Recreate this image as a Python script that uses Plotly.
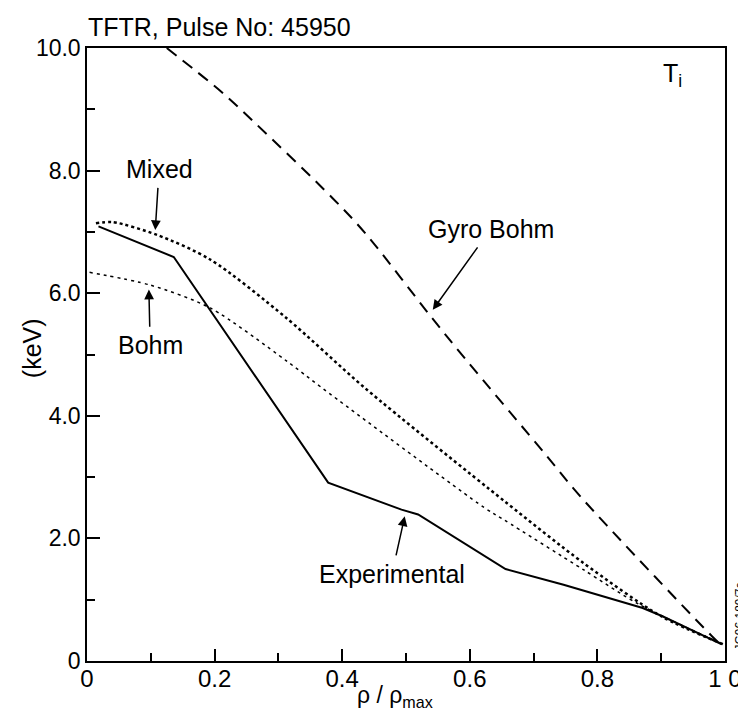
import plotly.graph_objects as go

# ---- data ----
exp_x = [0.018, 0.136, 0.378, 0.493, 0.519, 0.656, 0.747, 0.871, 0.902, 0.995]
exp_y = [7.09, 6.59, 2.91, 2.47, 2.39, 1.50, 1.245, 0.865, 0.73, 0.27]

mixed_x = [0.014, 0.04, 0.11, 0.193, 0.312, 0.436, 0.654, 0.778, 0.9, 0.998]
mixed_y = [7.14, 7.16, 6.95, 6.55, 5.6, 4.45, 2.61, 1.6, 0.73, 0.27]

bohm_x = [0.004, 0.1, 0.193, 0.312, 0.369, 0.623, 0.654, 0.778, 0.866, 0.998]
bohm_y = [6.34, 6.13, 5.76, 4.9, 4.45, 2.5, 2.30, 1.49, 0.92, 0.27]

gyro_x = [0.125, 0.21, 0.26, 0.385, 0.436, 0.542, 0.592, 0.721, 0.762, 0.814, 0.98, 0.995]
gyro_y = [10.0, 9.29, 8.81, 7.55, 6.98, 5.58, 4.94, 3.34, 2.82, 2.22, 0.40, 0.25]

x_tickvals = [0, 0.2, 0.4, 0.6, 0.8, 1.0]
x_ticktext = ["0", "0.2", "0.4", "0.6", "0.8", "1 0"]
y_tickvals = [0, 2, 4, 6, 8, 10]
y_ticktext = ["0", "2.0", "4.0", "6.0", "8.0", "10.0"]

FONT = "Liberation Sans, Arial, Helvetica, sans-serif"

fig = go.Figure()
fig.add_trace(go.Scatter(x=gyro_x, y=gyro_y, mode="lines",
                         line=dict(color="black", width=2, dash="12px,8px",
                                   shape="spline", smoothing=1.0), name="Gyro Bohm"))
fig.add_trace(go.Scatter(x=bohm_x, y=bohm_y, mode="lines",
                         line=dict(color="black", width=1.5, dash="3px,4px",
                                   shape="spline", smoothing=0.8), name="Bohm"))
fig.add_trace(go.Scatter(x=mixed_x, y=mixed_y, mode="lines",
                         line=dict(color="black", width=2.5, dash="dot",
                                   shape="spline", smoothing=0.8), name="Mixed"))
fig.add_trace(go.Scatter(x=exp_x, y=exp_y, mode="lines",
                         line=dict(color="black", width=2), name="Experimental"))

txt = dict(family=FONT, size=25, color="black")

# label text (at its centre) with an arrow pointing to the curve
labels = [
    ("Mixed", 0.113, 8.02, 0.107, 7.03),
    ("Bohm", 0.099, 5.15, 0.097, 6.06),
    ("Gyro Bohm", 0.633, 7.05, 0.542, 5.73),
    ("Experimental", 0.478, 1.42, 0.498, 2.36),
]
for t, lx, ly, tx, ty in labels:
    fig.add_annotation(x=tx, y=ty, ax=lx, ay=ly, xref="x", yref="y", axref="x", ayref="y",
                       text=t, showarrow=True, arrowhead=2, arrowsize=1.3,
                       arrowwidth=1.5, arrowcolor="black", font=txt, borderpad=4)

fig.add_annotation(x=0.918, y=9.56, xref="x", yref="y", text="T<sub>i</sub>", showarrow=False,
                   font=txt, xanchor="center", yanchor="middle")

fig.add_annotation(x=-0.002, y=1.035, xref="paper", yref="paper", text="TFTR, Pulse No: 45950",
                   showarrow=False, xanchor="left", yanchor="middle", font=txt)
fig.add_annotation(x=-0.085, y=0.51, xref="paper", yref="paper", text="(keV)", textangle=-90,
                   showarrow=False, xanchor="center", yanchor="middle", font=txt)
fig.add_annotation(x=0.482, y=-0.083, xref="paper", yref="paper", text="ρ / ρ<sub>max</sub>",
                   showarrow=False, xanchor="center", yanchor="bottom", borderpad=0,
                   font=dict(family=FONT, size=23, color="black"))
fig.add_annotation(x=1.023, y=0.072, xref="paper", yref="paper", text="JG96.189/7c", textangle=-90,
                   showarrow=False, xanchor="center", yanchor="middle",
                   font=dict(family=FONT, size=12, color="black"))

fig.update_xaxes(range=[0, 1.0], tickmode="array", tickvals=x_tickvals, ticktext=x_ticktext,
                 ticks="inside", ticklen=12, tickwidth=1.5, tickcolor="black",
                 ticklabelstandoff=-5,
                 showline=True, linecolor="black", linewidth=1.5, mirror=True,
                 showgrid=False, zeroline=False,
                 tickfont=dict(family=FONT, size=24, color="black"),
                 minor=dict(tickmode="linear", tick0=0, dtick=0.1, ticks="inside",
                            ticklen=8, tickwidth=1.5, tickcolor="black", showgrid=False))
fig.update_yaxes(range=[0, 10.0], tickmode="array", tickvals=y_tickvals, ticktext=y_ticktext,
                 ticks="inside", ticklen=13, tickwidth=1.5, tickcolor="black",
                 showline=True, linecolor="black", linewidth=1.5, mirror=True,
                 showgrid=False, zeroline=False,
                 tickfont=dict(family=FONT, size=23, color="black"),
                 minor=dict(tickmode="linear", tick0=0, dtick=1, ticks="inside",
                            ticklen=8, tickwidth=1.5, tickcolor="black", showgrid=False))

fig.update_layout(width=746, height=714, margin=dict(l=79, r=23, t=40, b=61),
                  plot_bgcolor="white", paper_bgcolor="white", showlegend=False,
                  font=dict(family=FONT, color="black"))

fig.write_html("out.html")
